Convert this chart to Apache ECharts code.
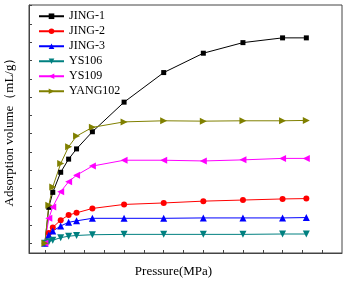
<!DOCTYPE html>
<html><head><meta charset="utf-8">
<script src="https://cdn.jsdelivr.net/npm/echarts@6/dist/echarts.min.js"></script>
<style>html,body{margin:0;padding:0;background:#fff}#c{width:347px;height:284px}</style>
</head><body><div id="c"></div>
<script>
const pressure = [0, 0.5, 1, 2, 3, 4, 6, 10, 15, 20, 25, 30, 33];
const jing1   = [0, 0.98, 1.39, 1.94, 2.30, 2.58, 3.05, 3.86, 4.67, 5.20, 5.49, 5.62, 5.62];
const jing2   = [0, 0.28, 0.43, 0.63, 0.77, 0.83, 0.95, 1.06, 1.10, 1.15, 1.18, 1.21, 1.22];
const jing3   = [0, 0.22, 0.33, 0.47, 0.57, 0.61, 0.68, 0.68, 0.68, 0.69, 0.69, 0.69, 0.70];
const ys106   = [0, 0.04, 0.08, 0.15, 0.19, 0.21, 0.23, 0.24, 0.24, 0.24, 0.24, 0.25, 0.25];
const ys109   = [0, 0.68, 0.99, 1.41, 1.68, 1.86, 2.11, 2.27, 2.27, 2.25, 2.28, 2.32, 2.32];
const yang102 = [0, 1.04, 1.54, 2.18, 2.64, 2.93, 3.17, 3.32, 3.35, 3.34, 3.35, 3.35, 3.36];
const xTicks = [0, 5, 10, 15, 20, 25, 30, 35];
const xTickMarks = [0, 2.5, 5, 7.5, 10, 12.5, 15, 17.5, 20, 22.5, 25, 27.5, 30, 32.5, 35];
const yTicks = [0, 1, 2, 3, 4, 5, 6];
const yTickMarks = [0, 0.5, 1, 1.5, 2, 2.5, 3, 3.5, 4, 4.5, 5, 5.5, 6, 6.5];
const xName = 'Pressure(MPa)';
const yName = 'Adsorption volume（mL/g）';

const names = ['JING-1','JING-2','JING-3','YS106','YS109','YANG102'];
const datas = [jing1, jing2, jing3, ys106, ys109, yang102];
const colors = ['#000000','#ff0000','#0000ff','#008080','#ff00ff','#808000'];
const symbols = ['rect','circle','triangle','triangle','triangle','triangle'];
const rotates = [0,0,0,180,90,-90];

const X_MIN = -2, X_MAX = 37.5, Y_MIN = -0.27, Y_MAX = 6.52;
const chart = echarts.init(document.getElementById('c'));
const tickFont = {fontFamily:'Liberation Sans', fontSize:9, color:'#000'};
const nameFont = {fontFamily:'Liberation Serif', fontSize:13, fill:'#000'};
const tickLabelSeries = (pts, pos, dist, idx) => ({
  type:'scatter', silent:true, clip:false, symbolSize:1, z:1,
  itemStyle:{opacity:0},
  data: pts,
  label:{show:true, position:pos, distance:dist, ...tickFont, formatter: p => String(p.value[idx])},
  emphasis:{disabled:true}, tooltip:{show:false}
});
chart.setOption({
  animation:false,
  grid:{left:29, top:5, right:5, bottom:31, show:true, borderColor:'#444', borderWidth:1, outerBoundsMode:'none'},
  legend:{
    orient:'vertical', left:33, top:5, itemWidth:25, itemHeight:7, itemGap:2.5,
    textStyle:{fontFamily:'Liberation Serif', fontSize:12, color:'#000', lineHeight:12.5},
    data:names
  },
  graphic:[
    {type:'text', left:'center', top:265, style:Object.assign({text:xName}, nameFont)},
    {type:'text', x:10, y:129, rotation:Math.PI/2, style:Object.assign({text:yName, align:'center', verticalAlign:'middle'}, nameFont)}
  ],
  xAxis:{
    type:'value', min:X_MIN, max:X_MAX,
    axisLine:{onZero:false, lineStyle:{color:'#444'}},
    axisTick:{inside:true, length:3, customValues:xTickMarks, lineStyle:{color:'#444'}},
    axisLabel:{show:false},
    splitLine:{show:false}
  },
  yAxis:{
    type:'value', min:Y_MIN, max:Y_MAX,
    axisLine:{show:true, onZero:false, lineStyle:{color:'#444'}},
    axisTick:{show:true, inside:true, length:3, customValues:yTickMarks, lineStyle:{color:'#444'}},
    axisLabel:{show:false},
    splitLine:{show:false}
  },
  series: names.map((n,i)=>({
    name:n, type:'line',
    data: pressure.map((p,j)=>[p, datas[i][j]]),
    symbol:symbols[i], symbolRotate:rotates[i], symbolSize: symbols[i]==='circle'?6:(symbols[i]==='rect'?5:7),
    itemStyle:{color:colors[i]},
    lineStyle:{color:colors[i], width:1}
  })).concat([
    tickLabelSeries(xTicks.map(v=>[v, Y_MIN]), 'bottom', 5, 0),
    tickLabelSeries(yTicks.map(v=>[X_MIN, v]), 'left', 6, 1)
  ])
});
</script></body></html>
